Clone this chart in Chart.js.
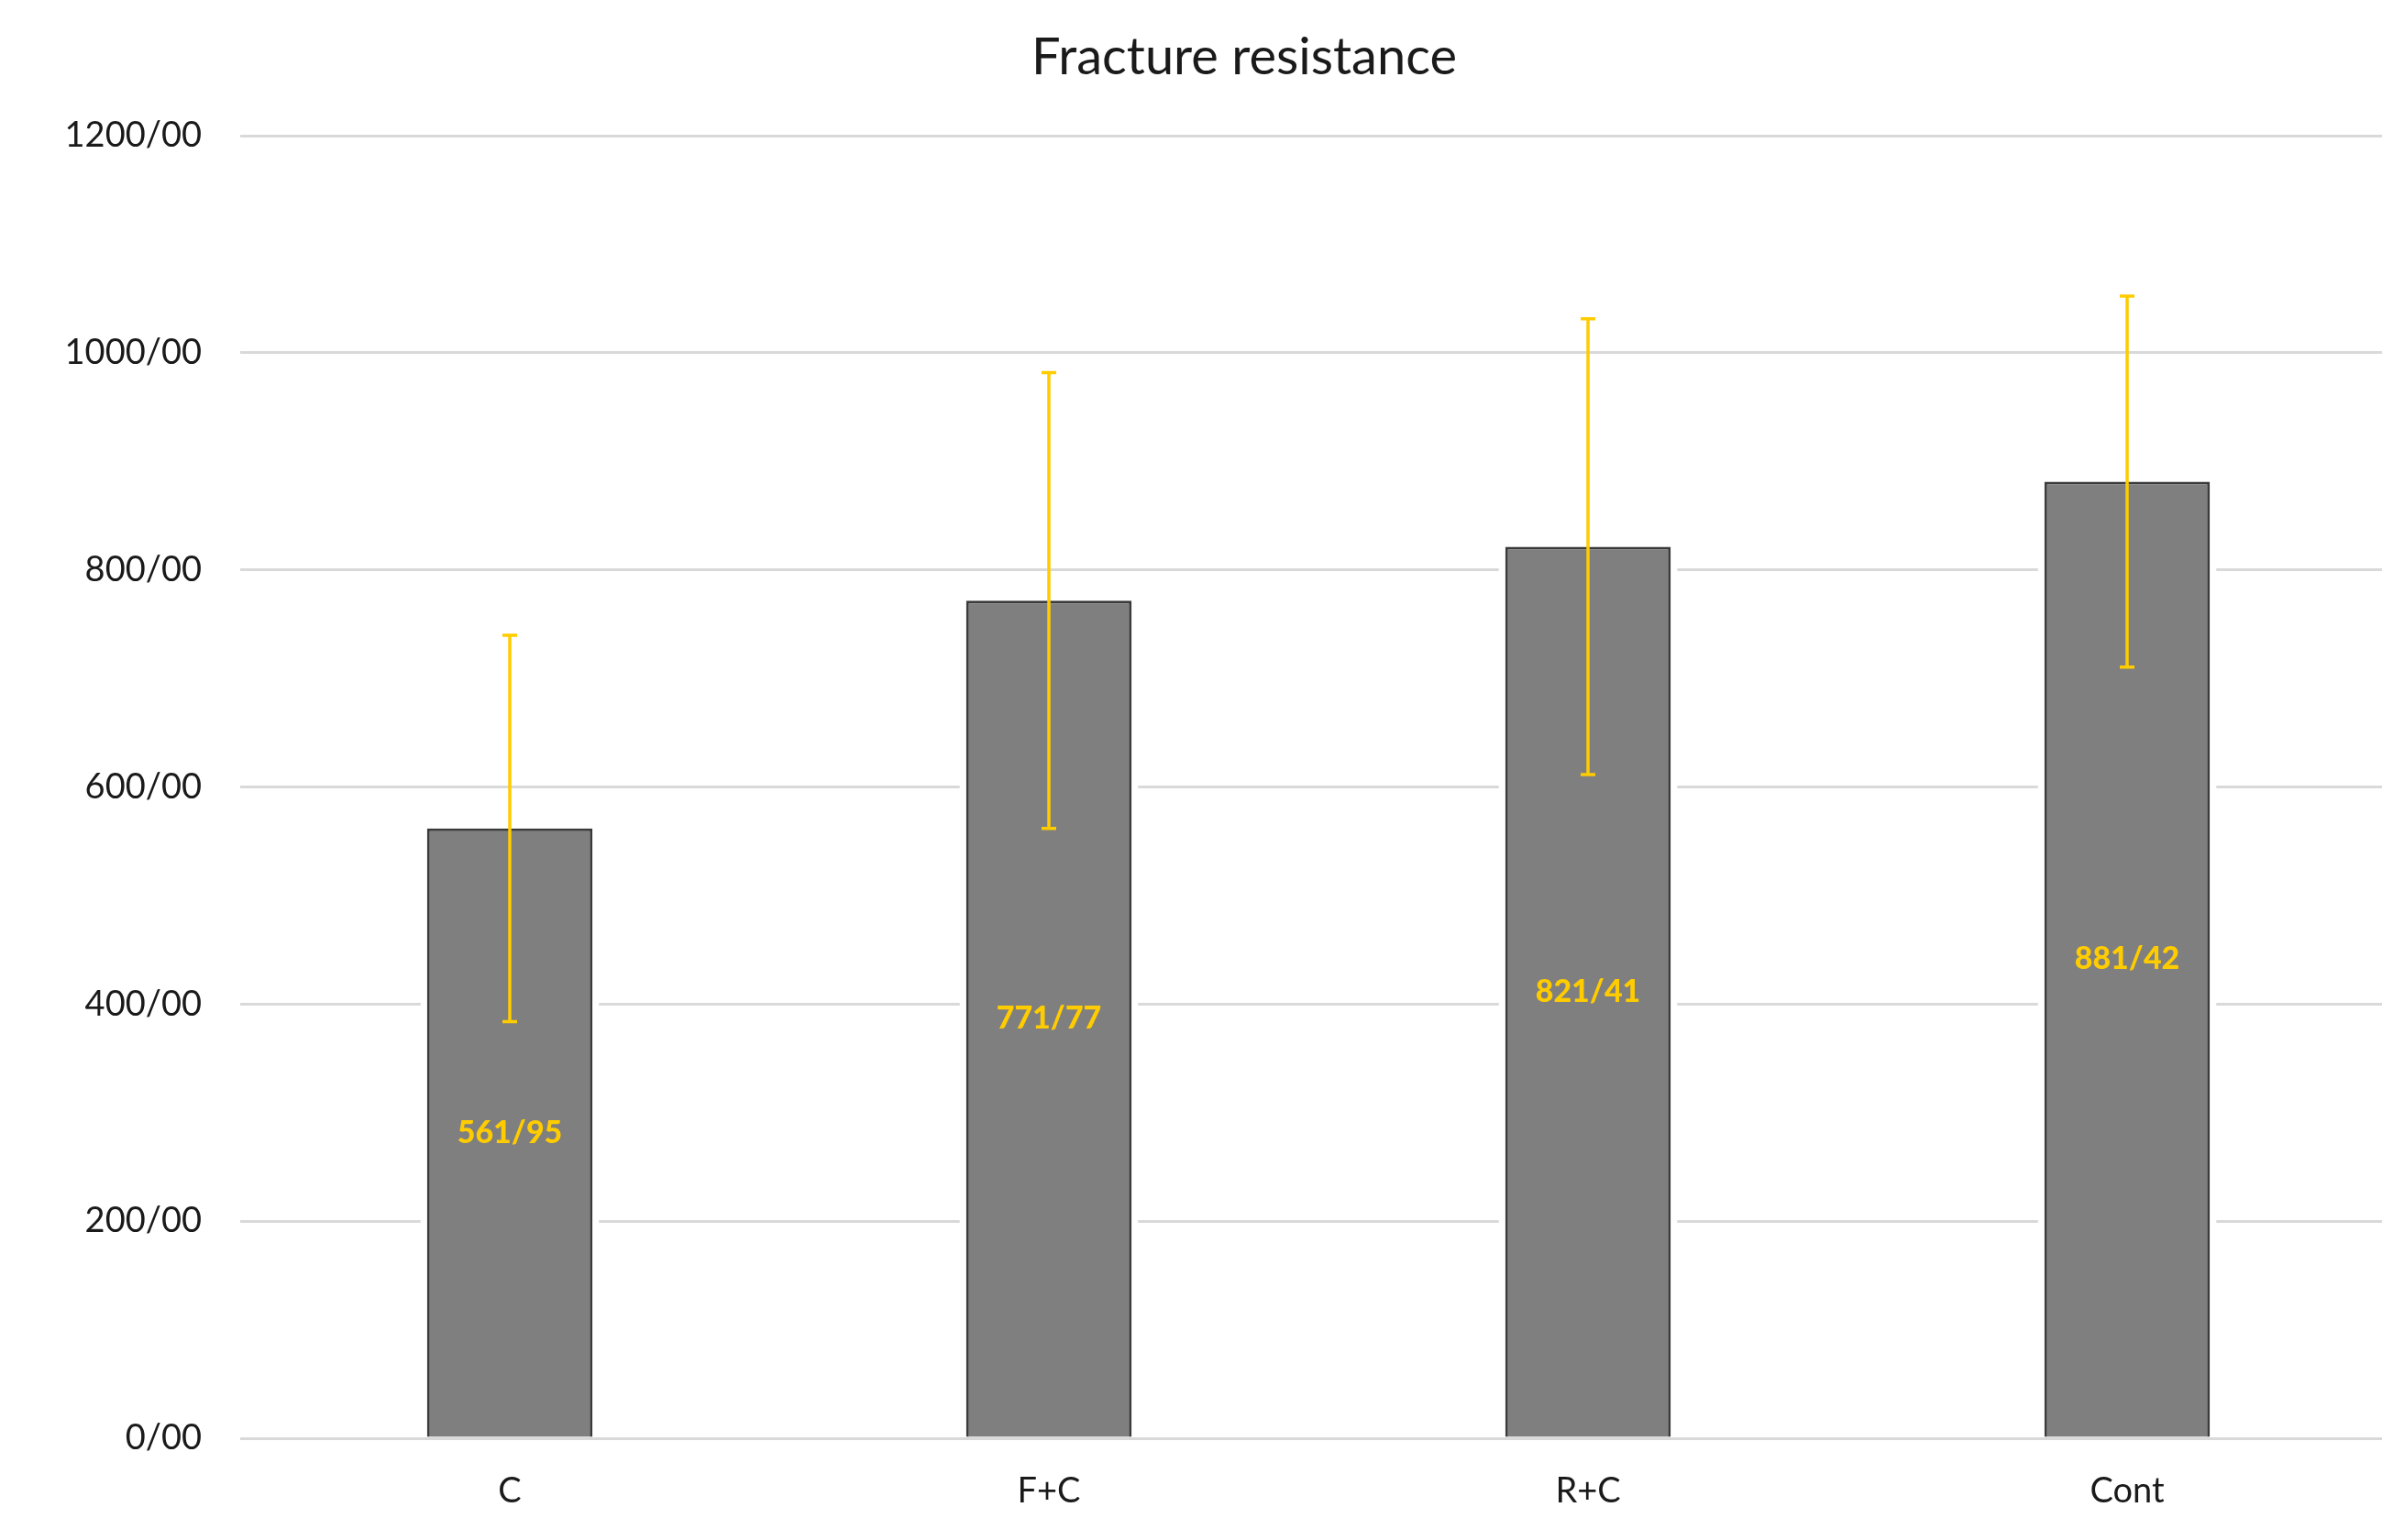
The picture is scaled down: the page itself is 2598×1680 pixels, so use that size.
<!DOCTYPE html>
<html>
<head>
<meta charset="utf-8">
<title>Fracture resistance</title>
<script src="https://cdn.jsdelivr.net/npm/chart.js@4.4.1/dist/chart.umd.min.js"></script>
<style>
    html, body { margin: 0; padding: 0; background: #ffffff; overflow: hidden; }
    #wrap { width: 2714px; height: 1680px; }
</style>
</head>
<body>
<div id="wrap"><canvas id="chart" width="2714" height="1680"></canvas></div>
<script>
// ===== Data =====
const groups = ["C", "F+C", "R+C", "Cont"];
const means = [561.95, 771.77, 821.41, 881.42];
const stdDevs = [178, 210, 210, 171];
const valueLabels = ["561/95", "771/77", "821/41", "881/42"];
const yTicks = [0, 200, 400, 600, 800, 1000, 1200];

const FONT = "Lato, 'Open Sans', sans-serif";
const YELLOW = "#ffcc00";

// ===== Gaps in gridlines around bars =====
const barGapPlugin = {
    id: "barGap",
    beforeDatasetsDraw(chart) {
        const ctx = chart.ctx;
        const meta = chart.getDatasetMeta(0);
        ctx.save();
        ctx.fillStyle = "#ffffff";
        meta.data.forEach(function(bar) {
            const half = bar.width / 2 + 7;
            ctx.fillRect(bar.x - half, bar.y - 4, half * 2, bar.base - bar.y + 2);
        });
        ctx.restore();
    }
};

// ===== Error bars + value labels =====
const errorBarPlugin = {
    id: "errorBars",
    afterDatasetsDraw(chart) {
        const ctx = chart.ctx;
        const yScale = chart.scales.y;
        const meta = chart.getDatasetMeta(0);
        ctx.save();
        meta.data.forEach(function(bar, i) {
            const top = yScale.getPixelForValue(means[i] + stdDevs[i]);
            const bottom = yScale.getPixelForValue(means[i] - stdDevs[i]);
            ctx.strokeStyle = YELLOW;
            ctx.lineWidth = 3.5;
            ctx.beginPath();
            ctx.moveTo(bar.x, top);
            ctx.lineTo(bar.x, bottom);
            ctx.moveTo(bar.x - 8, top);
            ctx.lineTo(bar.x + 8, top);
            ctx.moveTo(bar.x - 8, bottom);
            ctx.lineTo(bar.x + 8, bottom);
            ctx.stroke();

            ctx.fillStyle = YELLOW;
            ctx.font = "900 34px " + FONT;
            ctx.textAlign = "center";
            ctx.textBaseline = "middle";
            ctx.fillText(valueLabels[i], bar.x, (bar.y + bar.base) / 2);
        });
        ctx.restore();
    }
};

// ===== Chart =====
const ctx = document.getElementById("chart").getContext("2d");
new Chart(ctx, {
    type: "bar",
    data: {
        labels: groups,
        datasets: [{
            data: means,
            backgroundColor: "#7f7f7f",
            borderColor: "#3a3a3a",
            borderWidth: 3,
            borderSkipped: "bottom",
            barPercentage: 0.307,
            categoryPercentage: 1.0,
        }],
    },
    options: {
        responsive: false,
        animation: false,
        layout: { padding: 0 },
        plugins: {
            legend: { display: false },
            tooltip: { enabled: false },
            title: {
                display: true,
                text: "Fracture resistance",
                color: "#1a1a1a",
                font: { family: FONT, size: 56, weight: "normal" },
                padding: { top: 29, bottom: 52 },
            },
        },
        scales: {
            x: {
                grid: { display: false, drawTicks: false },
                border: { display: false },
                afterFit: function(axis) { axis.height = 111; },
                ticks: {
                    color: "#1a1a1a",
                    font: { family: FONT, size: 38 },
                    padding: 35,
                },
            },
            y: {
                min: 0,
                max: 1200,
                afterBuildTicks: function(axis) {
                    axis.ticks = yTicks.map(function(v) { return { value: v }; });
                },
                afterFit: function(axis) { axis.width = 262; },
                grid: { color: "#d9d9d9", lineWidth: 3, drawTicks: false },
                border: { display: false },
                ticks: {
                    color: "#1a1a1a",
                    font: { family: FONT, size: 38 },
                    padding: 42,
                    callback: function(value) { return value + "/00"; },
                },
            },
            // empty right margin (off screen), keeps the title centred like the source
            yRight: {
                position: "right",
                min: 0,
                max: 1200,
                afterFit: function(axis) { axis.width = 100; },
                grid: { display: false, drawTicks: false },
                border: { display: false },
                ticks: { display: false },
            },
        },
    },
    plugins: [barGapPlugin, errorBarPlugin],
});
</script>
</body>
</html>
